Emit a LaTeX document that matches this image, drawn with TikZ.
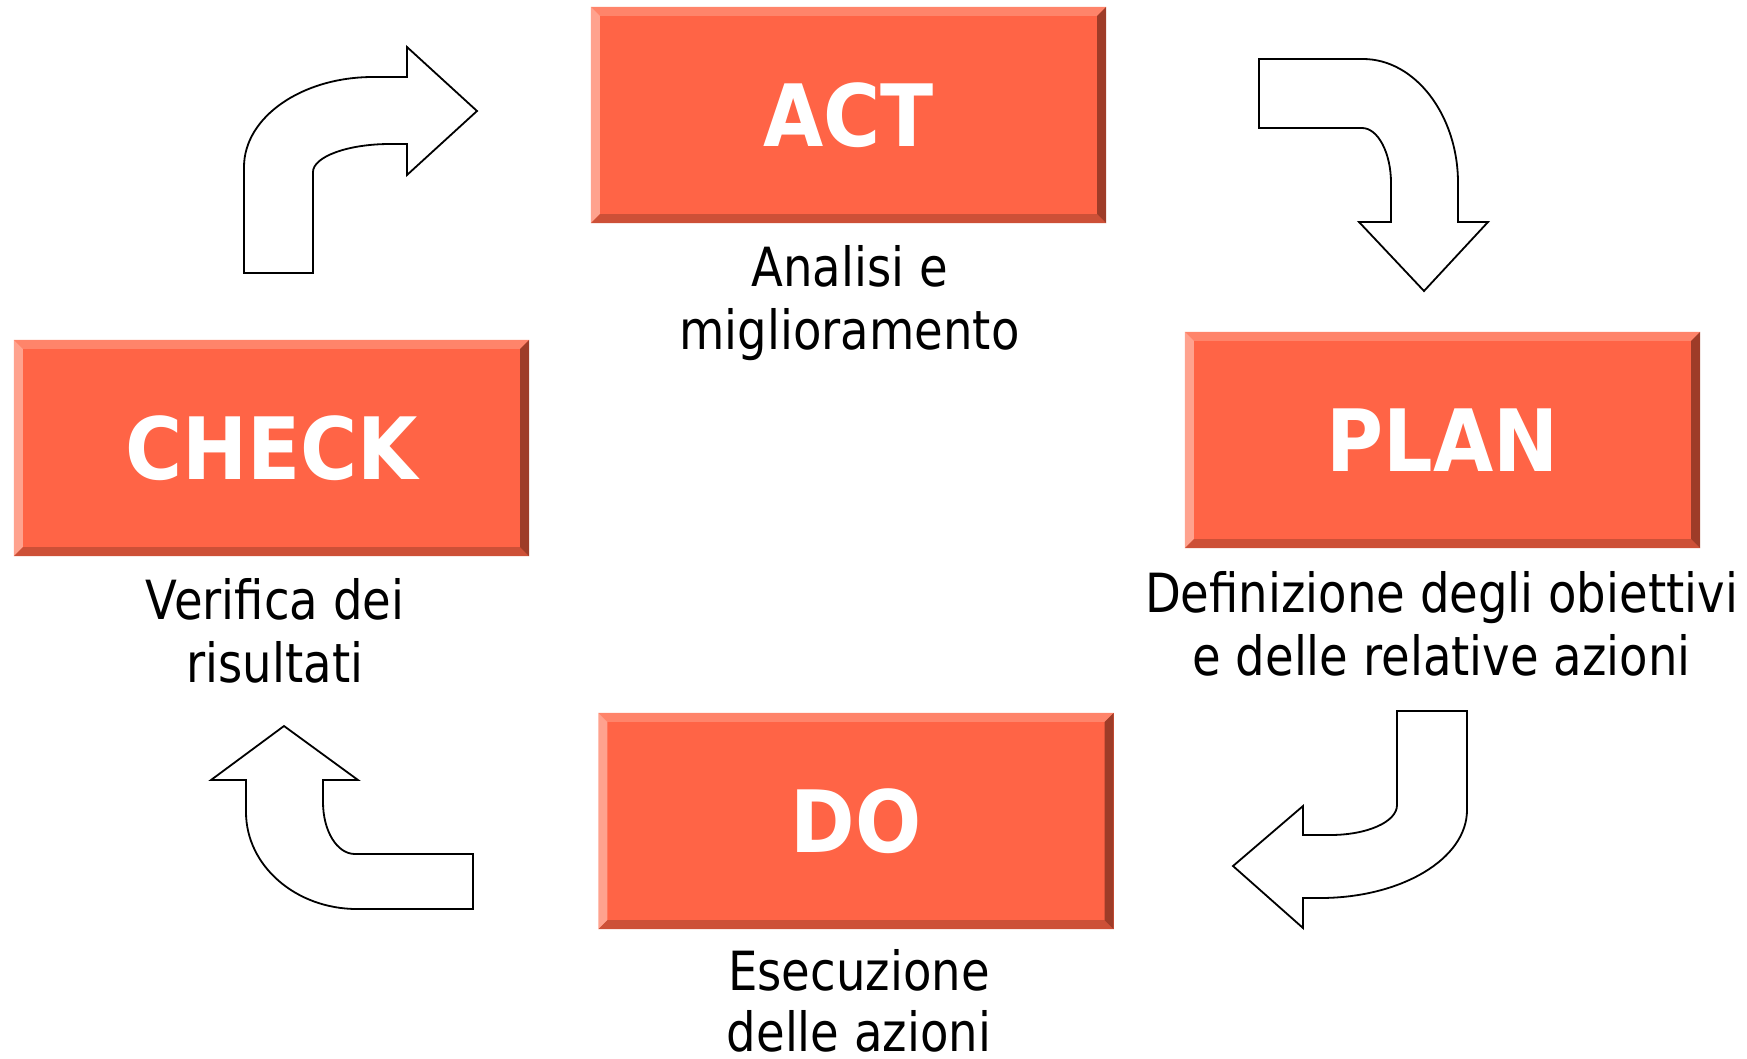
\documentclass[tikz,border=0pt]{standalone}
\usepackage{fontspec}
\setmainfont{DejaVu Sans}[FakeStretch=0.862, BoldFeatures={FakeStretch=0.905}]
\definecolor{boxmain}{RGB}{255,100,70}
\definecolor{bevtop}{RGB}{255,132,106}
\definecolor{bevleft}{RGB}{255,162,142}
\definecolor{bevbot}{RGB}{205,80,55}
\definecolor{bevright}{RGB}{158,60,40}
\tikzset{
  mainbox/.style={fill=boxmain, minimum width=515pt, minimum height=216pt, inner sep=0pt,
     text=white, font=\fontsize{86}{86}\selectfont\bfseries},
  lab/.style={anchor=base, inner sep=0pt, font=\fontsize{54}{63}\selectfont},
  blockarrow/.style={draw=black, fill=white, line width=1.8pt, line join=miter}
}
\newcommand\pdcabox[4]{%
  \node[mainbox] (#1) at (#2,#3) {#4};
  \fill[bevtop] (#1.north west) -- (#1.north east) -- ([shift={(-9,9)}]#1.north east) -- ([shift={(9,9)}]#1.north west) -- cycle;
  \fill[bevleft] (#1.north west) -- ([shift={(9,9)}]#1.north west) -- ([shift={(9,-9)}]#1.south west) -- (#1.south west) -- cycle;
  \fill[bevbot] (#1.south west) -- (#1.south east) -- ([shift={(-9,-9)}]#1.south east) -- ([shift={(9,-9)}]#1.south west) -- cycle;
  \fill[bevright] (#1.north east) -- (#1.south east) -- ([shift={(-9,-9)}]#1.south east) -- ([shift={(-9,9)}]#1.north east) -- cycle;
}
\begin{document}
\begin{tikzpicture}[x=1pt,y=-1pt]
\useasboundingbox (0,0) rectangle (1747,1058);

\pdcabox{act}{848.5}{115}{ACT}
\pdcabox{check}{271.5}{448}{CHECK}
\pdcabox{plan}{1442.5}{440}{PLAN}
\pdcabox{do}{856}{821}{DO}

\node[lab] (actl1) at (849.5,286) {Analisi e};
\node[lab] (actl2) at (849.5,349) {miglioramento};
\node[lab] (planl1) at (1441.5,612) {Definizione degli obiettivi};
\node[lab] (planl2) at (1441.5,675) {e delle relative azioni};
\node[lab] (checkl1) at (275,619) {Verifica dei};
\node[lab] (checkl2) at (275,682) {risultati};
\node[lab] (dol1) at (859,990) {Esecuzione};
\node[lab] (dol2) at (859,1051) {delle azioni};

% CHECK -> ACT
\draw[blockarrow] (244,273) -- (244,167) .. controls (244,117) and (302,77) .. (373,77)
  -- (407,77) -- (407,47) -- (477,111) -- (407,175) -- (407,144) -- (390,144)
  .. controls (347,144) and (313,157) .. (313,172) -- (313,273) -- cycle;
% ACT -> PLAN
\draw[blockarrow] (1259,59) -- (1363,59) .. controls (1415,59) and (1458,115) .. (1458,183)
  -- (1458,222) -- (1488,222) -- (1424,291) -- (1359,222) -- (1391,222) -- (1391,183)
  .. controls (1391,153) and (1378,128) .. (1362,128) -- (1259,128) -- cycle;
% PLAN -> DO
\draw[blockarrow] (1397,711) -- (1467,711) -- (1467,810) .. controls (1467,859) and (1401,898) .. (1320,898)
  -- (1303,898) -- (1303,928) -- (1233,866) -- (1303,806) -- (1303,835) -- (1330,835)
  .. controls (1367,835) and (1397,822) .. (1397,805) -- cycle;
% DO -> CHECK
\draw[blockarrow] (284,726) -- (358,780) -- (323,780) -- (323,802)
  .. controls (323,831) and (337,854) .. (355,854) -- (473,854) -- (473,909) -- (357,909)
  .. controls (296,909) and (246,866) .. (246,812) -- (246,780) -- (211,780) -- cycle;
\end{tikzpicture}
\end{document}
